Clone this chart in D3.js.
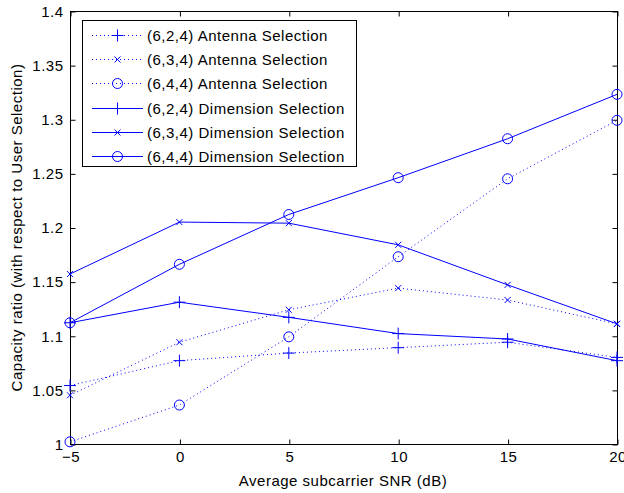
<!DOCTYPE html>
<html><head><meta charset="utf-8">
<script src="https://cdn.jsdelivr.net/npm/d3@7"></script>
<style>body{margin:0;background:#fff}svg{display:block}text{font-family:Arial,"Liberation Sans",sans-serif;font-size:15px;letter-spacing:0.5px}</style>
</head><body><svg id="c" width="624" height="493"></svg>
<script>
const snr = [-5, 0, 5, 10, 15, 20];
const xTicks = [-5, 0, 5, 10, 15, 20];
const yTicks = [1, 1.05, 1.1, 1.15, 1.2, 1.25, 1.3, 1.35, 1.4];
const ant624 = [1.054, 1.077, 1.084, 1.089, 1.094, 1.080];
const ant634 = [1.045, 1.094, 1.124, 1.144, 1.133, 1.111];
const ant644 = [1.002, 1.036, 1.099, 1.173, 1.245, 1.299];
const dim624 = [1.112, 1.131, 1.117, 1.102, 1.097, 1.077];
const dim634 = [1.157, 1.205, 1.204, 1.184, 1.147, 1.111];
const dim644 = [1.112, 1.166, 1.212, 1.246, 1.282, 1.323];
const seriesNames = ["(6,2,4) Antenna Selection","(6,3,4) Antenna Selection","(6,4,4) Antenna Selection",
  "(6,2,4) Dimension Selection","(6,3,4) Dimension Selection","(6,4,4) Dimension Selection"];
const seriesVals = [ant624, ant634, ant644, dim624, dim634, dim644];
const markers = ["plus","x","o","plus","x","o"];
const dotted = [true,true,true,false,false,false];

const svg = d3.select("#c");
const L=70, R=617, T=11, B=444;
const x = d3.scaleLinear().domain([-5,20]).range([L,R]);
const y = d3.scaleLinear().domain([1,1.4]).range([B,T]);
const blue = "#0000ff";

svg.append("rect").attr("x",L+0.5).attr("y",T+0.5).attr("width",R-L).attr("height",B-T)
  .attr("fill","none").attr("stroke","#000").attr("stroke-width",1);
const tl = 5;
const axB = svg.append("g").attr("transform",`translate(0.5,${B+0.5})`)
  .call(d3.axisBottom(x).tickValues(xTicks).tickSize(-tl).tickPadding(7).tickFormat(d3.format("d")));
const axT = svg.append("g").attr("transform",`translate(0.5,${T+0.5})`)
  .call(d3.axisTop(x).tickValues(xTicks).tickSize(-tl).tickFormat(""));
const axL = svg.append("g").attr("transform",`translate(${L+0.5},0.5)`)
  .call(d3.axisLeft(y).tickValues(yTicks).tickSize(-tl).tickPadding(7).tickFormat(d=>String(+d.toFixed(2))));
const axR = svg.append("g").attr("transform",`translate(${R+0.5},0.5)`)
  .call(d3.axisRight(y).tickValues(yTicks).tickSize(-tl).tickFormat(""));
[axB,axT,axL,axR].forEach(a=>{a.select(".domain").remove();
  a.selectAll("line").attr("stroke","#000");
  a.selectAll("text").attr("fill","#000").attr("font-size",null).attr("font-family",null);});
axL.selectAll("text").attr("dx","0.4em");
axL.selectAll("text").attr("dx",null);

svg.append("text").attr("x",343).attr("y",486).attr("text-anchor","middle")
  .text("Average subcarrier SNR (dB)");
svg.append("text").attr("transform",`translate(22,${(T+B)/2}) rotate(-90)`).attr("text-anchor","middle")
  .text("Capacity ratio (with respect to User Selection)");

function drawMarker(g, type, cx, cy){
  if(type==="plus"){
    g.append("path").attr("d",`M${cx-6},${cy}H${cx+6}M${cx},${cy-6}V${cy+6}`).attr("stroke",blue).attr("fill","none");
  } else if(type==="x"){
    g.append("path").attr("d",`M${cx-3},${cy-3}L${cx+3},${cy+3}M${cx-3},${cy+3}L${cx+3},${cy-3}`).attr("stroke",blue).attr("fill","none");
  } else {
    g.append("circle").attr("cx",cx).attr("cy",cy).attr("r",5).attr("stroke",blue).attr("fill","none");
  }
}

const line = d3.line().x((d,i)=>x(snr[i])).y(d=>y(d));
seriesVals.forEach((vals,k)=>{
  const g = svg.append("g");
  g.append("path").attr("d",line(vals)).attr("fill","none").attr("stroke",blue).attr("stroke-width",1)
    .attr("stroke-dasharray",dotted[k]?"1,3":null);
  vals.forEach((v,i)=>drawMarker(g,markers[k],x(snr[i]),y(v)));
});

const lg = svg.append("g");
lg.append("rect").attr("x",82.5).attr("y",20.5).attr("width",274).attr("height",146)
  .attr("fill","#fff").attr("stroke","#000");
seriesNames.forEach((n,k)=>{
  const yy = Math.round(35 + k*24.2) + 0.5;
  lg.append("line").attr("x1",92).attr("x2",143).attr("y1",yy).attr("y2",yy)
    .attr("stroke",blue).attr("stroke-dasharray",dotted[k]?"1,3":null);
  drawMarker(lg, markers[k], 117.5, yy);
  lg.append("text").attr("x",147).attr("y",yy+5.5).text(n);
});
</script></body></html>
